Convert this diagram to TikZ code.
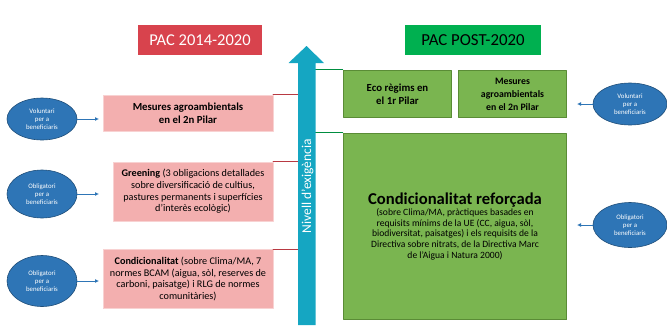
\documentclass[tikz,border=0pt]{standalone}
\usepackage{fontspec}
\setmainfont{Carlito}
\usetikzlibrary{shapes.geometric,arrows.meta,calc}
\definecolor{pacred}{HTML}{D8434D}
\definecolor{pacgreen}{HTML}{00B050}
\definecolor{pinkfill}{HTML}{F3AFAF}
\definecolor{pinkline}{HTML}{F8D2D2}
\definecolor{leaf}{HTML}{7AB550}
\definecolor{leafline}{HTML}{5A8C36}
\definecolor{ellfill}{HTML}{2E75B6}
\definecolor{ellline}{HTML}{1F4E79}
\definecolor{axiscol}{HTML}{15A6C2}
\tikzset{
  pinkbox/.style={fill=pinkfill,draw=pinkline,align=center,inner sep=1pt,
    font=\fontsize{10.2}{11.7}\selectfont},
  leafbox/.style={fill=leaf,draw=leafline,line width=1.6pt,align=center,inner sep=1pt,
    font=\bfseries\fontsize{9.8}{13}\selectfont},
  bubble/.style={ellipse,fill=ellfill,draw=ellline,line width=0.6pt,text=white,align=center,
    inner sep=0pt,font=\fontsize{6.8}{8}\selectfont},
  link/.style={draw=ellfill,line width=0.8pt,-{Latex[length=4pt,width=4pt]}},
}
\begin{document}
\begin{tikzpicture}[x=1pt,y=-1pt,line cap=round,line join=round]
\useasboundingbox (0,0) rectangle (667,325);
\coordinate (axis) at (307,0);
% titles
\node[fill=pacred,text=white,minimum width=124pt,minimum height=30pt,inner sep=0pt,
  font=\fontsize{16.5}{19}\selectfont] (old) at (200,40) {PAC 2014-2020};
\node[fill=pacgreen,minimum width=136pt,minimum height=30pt,inner sep=0pt,
  font=\fontsize{16.8}{19}\selectfont] (new) at (473,40) {PAC POST-2020};
% left side
\node[pinkbox,font=\bfseries\fontsize{10.8}{12.7}\selectfont,minimum width=170pt,minimum height=36pt]
  (agro) at (188,113) {Mesures agroambientals\\en el 2n Pilar};
\node[pinkbox,minimum width=160pt,minimum height=59pt] (green) at (193,191.5)
  {\textbf{Greening} (3 obligacions detallades\\sobre diversificació de cultius,\\pastures permanents i superfícies\\d’interès ecològic)};
\node[pinkbox,minimum width=170pt,minimum height=59pt] (cond) at (188,279)
  {\textbf{Condicionalitat} (sobre Clima/MA, 7\\normes BCAM (aigua, sòl, reserves de\\carboni, paisatge) i RLG de normes\\comunitàries)};
\node[bubble,minimum width=70pt,minimum height=42pt] (vol) at (42,119) {Voluntari\\per a\\beneficiaris};
\node[bubble,minimum width=70pt,minimum height=48pt] (obl) at (42,194) {Obligatori\\per a\\beneficiaris};
\node[bubble,minimum width=70pt,minimum height=51pt] (oblb) at (42,281) {Obligatori\\per a\\beneficiaris};
\coordinate (volend) at (99,119);
\coordinate (oblend) at (99,194);
\coordinate (oblbend) at (99,281);
\draw[link] (vol) -- (volend);
\draw[link] (obl) -- (oblend);
\draw[link] (oblb) -- (oblbend);
% right side
\node[leafbox,font=\bfseries\fontsize{10.8}{13}\selectfont,minimum width=108pt,minimum height=47pt]
  (eco) at (397.5,94) {Eco règims en\\el 1r Pilar};
\node[leafbox,minimum width=108pt,minimum height=47pt] (agronew) at (512.5,94) {Mesures\\agroambientals\\en el 2n Pilar};
\node[leafbox,font=\fontsize{9.6}{10.9}\selectfont,minimum width=223pt,minimum height=186pt]
  (condnew) at (455,226.5)
  {{\bfseries\fontsize{16.6}{20}\selectfont Condicionalitat reforçada}\\(sobre Clima/MA, pràctiques basades en\\requisits mínims de la UE (CC, aigua, sòl,\\biodiversitat, paisatges) i els requisits de la\\Directiva sobre nitrats, de la Directiva Marc\\de l’Aigua i Natura 2000)};
\node[bubble,minimum width=74pt,minimum height=42pt] (volr) at (630,104) {Voluntari\\per a\\beneficiaris};
\node[bubble,minimum width=74pt,minimum height=45pt] (oblr) at (630,225) {Obligatori\\per a\\beneficiaris};
\coordinate (volrend) at (577,104);
\coordinate (oblrend) at (577,225);
\draw[link] (volr) -- (volrend);
\draw[link] (oblr) -- (oblrend);
% ties to the axis
\draw[pacred!85!black,line width=1pt] (agro.north east) -- (agro.north east -| axis);
\draw[pacred!85!black,line width=1pt] (green.north east) -- (green.north east -| axis);
\draw[pacred!85!black,line width=1pt] (cond.north east) -- (cond.north east -| axis);
\draw[pacgreen!80!black,line width=1pt] (eco.north west) -- (eco.north west -| axis);
\draw[pacgreen!80!black,line width=1pt] (condnew.north west) -- (condnew.north west -| axis);
% level arrow
\fill[axiscol] (298,325) -- (298,63) -- (288.5,63) -- (306.5,46) -- (324,63) -- (315.5,63) -- (315.5,325) -- cycle;
\node[rotate=90,text=white,font=\fontsize{13.5}{16}\selectfont] (level) at (307.5,186) {Nivell d’exigència};
\end{tikzpicture}
\end{document}
